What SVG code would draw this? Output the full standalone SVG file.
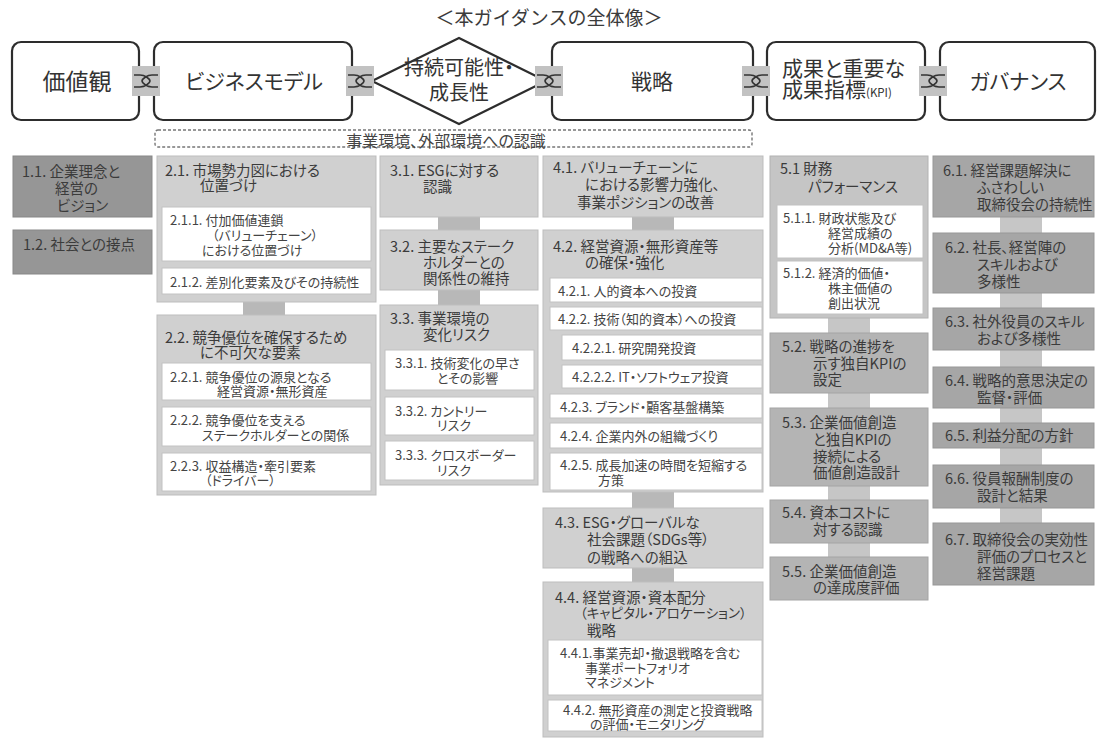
<svg xmlns="http://www.w3.org/2000/svg" xmlns:xlink="http://www.w3.org/1999/xlink" width="1098" height="742" viewBox="0 0 1098 742">
<style>
text{font-family:"Noto Sans CJK JP","Noto Sans",sans-serif;font-feature-settings:"palt";fill:#3b3b3b}
.ttl{font-size:19px;text-anchor:middle;font-feature-settings:normal}
.hd{font-size:21px;text-anchor:middle;fill:#333}
.hs{font-size:21px;fill:#333}
.env{font-size:16px;text-anchor:middle;fill:#444}
.t{font-size:14.5px}
.s{font-size:13px;fill:#444}
.hb{fill:#fff;stroke:#2d2d2d;stroke-width:2.2}
.g1{fill:#969696;stroke:#878787;stroke-width:1}
.g2{fill:#d0d0d0;stroke:#bdbdbd;stroke-width:1}
.g5{fill:#c5c5c5;stroke:#b2b2b2;stroke-width:1}
.g5b{fill:#b4b4b4;stroke:#a4a4a4;stroke-width:1}
.g6{fill:#a6a6a6;stroke:#979797;stroke-width:1}
.w{fill:#fff;stroke:#c2c2c2;stroke-width:1}
.vl{fill:#b8b8b8}
.vl2{fill:#c6c6c6}
</style>
<defs>
<g id="lk">
<rect x="-14" y="-15" width="28" height="30" fill="#c2c2c2"/>
<path d="M-12,-6 H-6 C-1,-6 4,-2 4,0 C4,2 -1,6 -6,6 H-12 M12,-6 H6 C1,-6 -4,-2 -4,0 C-4,2 1,6 6,6 H12" fill="none" stroke="#333" stroke-width="1.7"/>
</g>
</defs>
<rect width="1098" height="742" fill="#fff"/>
<text class="ttl" x="549" y="25">＜本ガイダンスの全体像＞</text>

<g id="n-kachikan"><rect class="hb" x="12" y="42" width="127" height="78" rx="9"/><text class="hd" style="font-size:23px" x="77" y="90">価値観</text></g>
<g id="n-bm"><rect class="hb" x="154" y="42" width="198" height="78" rx="9"/><text class="hd" x="254" y="89">ビジネスモデル</text></g>
<g id="n-sustain"><polygon class="hb" points="372,81 459,38 546,81 459,124"/><text class="hd" style="font-size:20px" x="459" y="75">持続可能性・</text><text class="hd" style="font-size:20px" x="459" y="100">成長性</text></g>
<g id="n-strategy"><rect class="hb" x="552" y="42" width="201" height="78" rx="9"/><text class="hd" x="652" y="89">戦略</text></g>
<g id="n-kpi"><rect class="hb" x="767" y="42" width="158" height="78" rx="9"/><text class="hs" x="782" y="76">成果と重要な</text><text class="hs" x="782" y="97">成果指標<tspan style="font-size:11.5px">(KPI)</tspan></text></g>
<g id="n-gov"><rect class="hb" x="940" y="42" width="155" height="78" rx="9"/><text class="hd" x="1018" y="89">ガバナンス</text></g>

<g id="n-env"><rect x="155" y="130" width="597" height="17" rx="3" fill="none" stroke="#777" stroke-width="1.4" stroke-dasharray="3,2"/><text class="env" x="446" y="147">事業環境、外部環境への認識</text></g>

<g id="connectors">
<use xlink:href="#lk" x="146" y="81"/>
<use xlink:href="#lk" x="360" y="81"/>
<use xlink:href="#lk" x="549" y="81"/>
<use xlink:href="#lk" x="756" y="81"/>
<use xlink:href="#lk" x="933" y="81"/>
<rect class="vl" x="243" y="302" width="42" height="13"/>
<rect class="vl" x="438" y="217" width="42" height="13"/>
<rect class="vl" x="438" y="290" width="42" height="15"/>
<rect class="vl" x="632" y="217" width="42" height="13"/>
<rect class="vl" x="632" y="492" width="42" height="16"/>
<rect class="vl" x="632" y="568" width="42" height="14"/>
<rect class="vl2" x="828" y="318" width="42" height="15"/>
<rect class="vl2" x="828" y="393" width="42" height="15"/>
<rect class="vl2" x="828" y="486" width="42" height="14"/>
<rect class="vl2" x="828" y="543" width="42" height="14"/>
<rect class="vl2" x="1000" y="217" width="42" height="16"/>
<rect class="vl2" x="1000" y="293" width="42" height="15"/>
<rect class="vl2" x="1000" y="350" width="42" height="17"/>
<rect class="vl2" x="1000" y="408" width="42" height="15"/>
<rect class="vl2" x="1000" y="448" width="42" height="17"/>
<rect class="vl2" x="1000" y="508" width="42" height="15"/>
</g>

<g id="n-1-1"><rect class="g1" x="13" y="156" width="139" height="61"/><text class="t" x="22" y="177">1.1. 企業理念と</text><text class="t" x="55" y="194">経営の</text><text class="t" x="57" y="211">ビジョン</text></g>
<g id="n-1-2"><rect class="g1" x="13" y="230" width="139" height="44"/><text class="t" x="23" y="250">1.2. 社会との接点</text></g>

<g id="n-2-1"><rect class="g2" x="157" y="156" width="219" height="146"/><text class="t" x="165" y="176">2.1. 市場勢力図における</text><text class="t" x="200" y="191">位置づけ</text>
<rect class="w" x="162" y="207" width="209" height="54"/><text class="s" x="170" y="225">2.1.1. 付加価値連鎖</text><text class="s" x="212" y="240">（バリューチェーン）</text><text class="s" x="202" y="255">における位置づけ</text>
<rect class="w" x="162" y="268" width="209" height="26"/><text class="s" x="170" y="287">2.1.2. 差別化要素及びその持続性</text></g>
<g id="n-2-2"><rect class="g2" x="157" y="315" width="219" height="180"/><text class="t" x="165" y="343">2.2. 競争優位を確保するため</text><text class="t" x="200" y="358">に不可欠な要素</text>
<rect class="w" x="162" y="363" width="209" height="37"/><text class="s" x="170" y="382">2.2.1. 競争優位の源泉となる</text><text class="s" x="217" y="396">経営資源・無形資産</text>
<rect class="w" x="162" y="407" width="209" height="39"/><text class="s" x="170" y="425">2.2.2. 競争優位を支える</text><text class="s" x="202" y="440">ステークホルダーとの関係</text>
<rect class="w" x="162" y="453" width="209" height="38"/><text class="s" x="170" y="471">2.2.3. 収益構造・牽引要素</text><text class="s" x="205" y="485">（ドライバー）</text></g>

<g id="n-3-1"><rect class="g2" x="380" y="156" width="158" height="61"/><text class="t" x="390" y="176">3.1. ESGに対する</text><text class="t" x="423" y="192">認識</text></g>
<g id="n-3-2"><rect class="g2" x="380" y="230" width="158" height="60"/><text class="t" x="390" y="252">3.2. 主要なステーク</text><text class="t" x="423" y="268">ホルダーとの</text><text class="t" x="423" y="284">関係性の維持</text></g>
<g id="n-3-3"><rect class="g2" x="380" y="305" width="158" height="180"/><text class="t" x="390" y="324">3.3. 事業環境の</text><text class="t" x="423" y="340">変化リスク</text>
<rect class="w" x="385" y="350" width="149" height="40"/><text class="s" x="395" y="368">3.3.1. 技術変化の早さ</text><text class="s" x="437" y="383">とその影響</text>
<rect class="w" x="385" y="397" width="149" height="38"/><text class="s" x="395" y="416">3.3.2. カントリー</text><text class="s" x="437" y="430">リスク</text>
<rect class="w" x="385" y="441" width="149" height="39"/><text class="s" x="395" y="460">3.3.3. クロスボーダー</text><text class="s" x="437" y="475">リスク</text></g>

<g id="n-4-1"><rect class="g2" x="543" y="156" width="220" height="61"/><text class="t" x="553" y="173">4.1. バリューチェーンに</text><text class="t" x="585" y="190">における影響力強化、</text><text class="t" x="577" y="208">事業ポジションの改善</text></g>
<g id="n-4-2"><rect class="g2" x="543" y="230" width="220" height="262"/><text class="t" x="553" y="252">4.2. 経営資源・無形資産等</text><text class="t" x="585" y="268">の確保・強化</text>
<rect class="w" x="550" y="278" width="212" height="24"/><text class="s" x="558" y="296">4.2.1. 人的資本への投資</text>
<rect class="w" x="550" y="307" width="212" height="23"/><text class="s" x="558" y="324">4.2.2. 技術（知的資本）への投資</text>
<rect class="w" x="562" y="335" width="200" height="25"/><text class="s" x="572" y="353">4.2.2.1. 研究開発投資</text>
<rect class="w" x="562" y="365" width="200" height="23"/><text class="s" x="572" y="382">4.2.2.2. IT・ソフトウェア投資</text>
<rect class="w" x="550" y="394" width="212" height="24"/><text class="s" x="560" y="412">4.2.3. ブランド・顧客基盤構築</text>
<rect class="w" x="550" y="423" width="212" height="25"/><text class="s" x="560" y="441">4.2.4. 企業内外の組織づくり</text>
<rect class="w" x="550" y="453" width="212" height="37"/><text class="s" x="560" y="470">4.2.5. 成長加速の時間を短縮する</text><text class="s" x="598" y="485">方策</text></g>
<g id="n-4-3"><rect class="g2" x="543" y="508" width="220" height="60"/><text class="t" x="555" y="528">4.3. ESG・グローバルな</text><text class="t" x="587" y="545">社会課題（SDGs等）</text><text class="t" x="587" y="563">の戦略への組込</text></g>
<g id="n-4-4"><rect class="g2" x="543" y="582" width="220" height="155"/><text class="t" x="555" y="603">4.4. 経営資源・資本配分</text><text class="t" style="font-size:13.5px" x="580" y="618">（キャピタル・アロケーション）</text><text class="t" x="587" y="636">戦略</text>
<rect class="w" x="548" y="640" width="214" height="55"/><text class="s" x="560" y="658">4.4.1.事業売却・撤退戦略を含む</text><text class="s" x="585" y="673">事業ポートフォリオ</text><text class="s" x="585" y="687">マネジメント</text>
<rect class="w" x="548" y="700" width="214" height="31"/><text class="s" x="563" y="715">4.4.2. 無形資産の測定と投資戦略</text><text class="s" x="590" y="729">の評価・モニタリング</text></g>

<g id="n-5-1"><rect class="g5" x="770" y="156" width="158" height="162"/><text class="t" x="780" y="174">5.1 財務</text><text class="t" x="808" y="192">パフォーマンス</text>
<rect class="w" x="777" y="205" width="146" height="53"/><text class="s" x="783" y="223">5.1.1. 財政状態及び</text><text class="s" x="828" y="238">経営成績の</text><text class="s" x="828" y="253">分析(MD&amp;A等)</text>
<rect class="w" x="777" y="261" width="146" height="53"/><text class="s" x="783" y="278">5.1.2. 経済的価値・</text><text class="s" x="828" y="293">株主価値の</text><text class="s" x="828" y="308">創出状況</text></g>
<g id="n-5-2"><rect class="g5b" x="770" y="333" width="158" height="60"/><text class="t" x="782" y="352">5.2. 戦略の進捗を</text><text class="t" x="813" y="369">示す独自KPIの</text><text class="t" x="813" y="385">設定</text></g>
<g id="n-5-3"><rect class="g5b" x="770" y="408" width="158" height="78"/><text class="t" x="782" y="428">5.3. 企業価値創造</text><text class="t" x="813" y="445">と独自KPIの</text><text class="t" x="813" y="462">接続による</text><text class="t" x="813" y="478">価値創造設計</text></g>
<g id="n-5-4"><rect class="g5b" x="770" y="500" width="158" height="43"/><text class="t" x="782" y="518">5.4. 資本コストに</text><text class="t" x="813" y="535">対する認識</text></g>
<g id="n-5-5"><rect class="g5b" x="770" y="557" width="158" height="43"/><text class="t" x="782" y="577">5.5. 企業価値創造</text><text class="t" x="813" y="593">の達成度評価</text></g>

<g id="n-6-1"><rect class="g6" x="933" y="156" width="161" height="61"/><text class="t" x="943" y="176">6.1. 経営課題解決に</text><text class="t" x="977" y="193">ふさわしい</text><text class="t" x="977" y="210">取締役会の持続性</text></g>
<g id="n-6-2"><rect class="g6" x="933" y="233" width="161" height="60"/><text class="t" x="945" y="253">6.2. 社長、経営陣の</text><text class="t" x="977" y="270">スキルおよび</text><text class="t" x="977" y="287">多様性</text></g>
<g id="n-6-3"><rect class="g6" x="933" y="308" width="161" height="42"/><text class="t" x="945" y="327">6.3. 社外役員のスキル</text><text class="t" x="977" y="344">および多様性</text></g>
<g id="n-6-4"><rect class="g6" x="933" y="367" width="161" height="41"/><text class="t" x="945" y="386">6.4. 戦略的意思決定の</text><text class="t" x="977" y="403">監督・評価</text></g>
<g id="n-6-5"><rect class="g6" x="933" y="423" width="161" height="25"/><text class="t" x="945" y="441">6.5. 利益分配の方針</text></g>
<g id="n-6-6"><rect class="g6" x="933" y="465" width="161" height="43"/><text class="t" x="945" y="484">6.6. 役員報酬制度の</text><text class="t" x="977" y="501">設計と結果</text></g>
<g id="n-6-7"><rect class="g6" x="933" y="523" width="161" height="62"/><text class="t" x="945" y="545">6.7. 取締役会の実効性</text><text class="t" x="977" y="562">評価のプロセスと</text><text class="t" x="977" y="579">経営課題</text></g>
</svg>
